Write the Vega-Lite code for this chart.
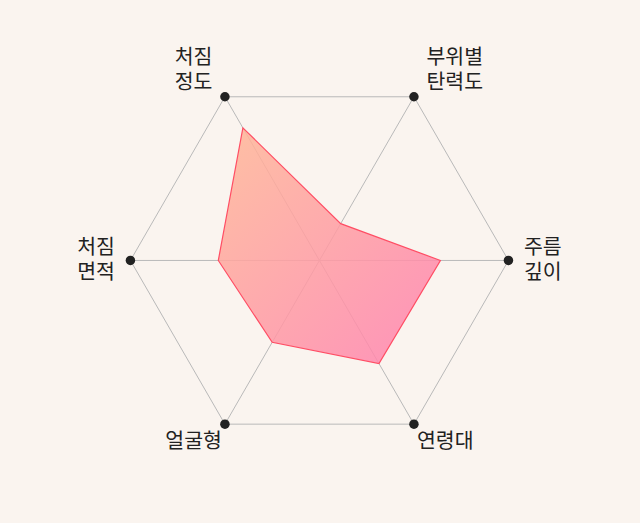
{
  "$schema": "https://vega.github.io/schema/vega-lite/v6.json",
  "width": 640,
  "height": 523,
  "autosize": {"type": "fit", "contains": "padding"},
  "padding": 0,
  "background": "#faf4ef",
  "config": {"view": {"stroke": null}},
  "data": {
    "values": [
      {"axis": "처짐 정도", "idx": 0, "value": 0.81},
      {"axis": "부위별 탄력도", "idx": 1, "value": 0.225},
      {"axis": "주름 깊이", "idx": 2, "value": 0.64},
      {"axis": "연령대", "idx": 3, "value": 0.63},
      {"axis": "얼굴형", "idx": 4, "value": 0.5},
      {"axis": "처짐 면적", "idx": 5, "value": 0.535}
    ]
  },
  "transform": [
    {"calculate": "(120 - 60 * datum.idx) * PI / 180", "as": "a"},
    {"calculate": "cos(datum.a)", "as": "hx"},
    {"calculate": "sin(datum.a)", "as": "hy"},
    {"calculate": "0", "as": "c0"},
    {"calculate": "datum.value * datum.hx", "as": "px"},
    {"calculate": "datum.value * datum.hy", "as": "py"},
    {"calculate": "datum.hx + (datum.hx > 0 ? 1 : -1) * (datum.hy > 0.1 ? 0.066 : datum.hy < -0.1 ? 0.016 : 0.082)", "as": "lx"},
    {"calculate": "datum.hy + (datum.hy > 0.1 ? 0.2037 : datum.hy < -0.1 ? -0.0926 : 0.066)", "as": "ly"}
  ],
  "layer": [
    {
      "mark": {"type": "rule", "color": "#b9b9b9", "strokeWidth": 1},
      "encoding": {
        "x": {"field": "c0", "type": "quantitative", "scale": {"domain": [-1.69, 1.696], "nice": false, "zero": false, "padding": 0}, "axis": null},
        "y": {"field": "c0", "type": "quantitative", "scale": {"domain": [-1.389, 1.378], "nice": false, "zero": false, "padding": 0}, "axis": null},
        "x2": {"field": "hx"},
        "y2": {"field": "hy"}
      }
    },
    {
      "mark": {"type": "line", "interpolate": "linear-closed", "color": "#b9b9b9", "strokeWidth": 1},
      "encoding": {
        "x": {"field": "hx", "type": "quantitative", "scale": {"domain": [-1.69, 1.696], "nice": false, "zero": false, "padding": 0}, "axis": null},
        "y": {"field": "hy", "type": "quantitative", "scale": {"domain": [-1.389, 1.378], "nice": false, "zero": false, "padding": 0}, "axis": null},
        "order": {"field": "idx", "type": "quantitative"}
      }
    },
    {
      "mark": {
        "type": "line",
        "interpolate": "linear-closed",
        "fill": {
          "gradient": "linear",
          "x1": 0, "y1": 0, "x2": 1, "y2": 1,
          "stops": [
            {"offset": 0, "color": "#ffb796"},
            {"offset": 1, "color": "#ff80b0"}
          ]
        },
        "fillOpacity": 0.85,
        "stroke": "#ff4d64",
        "strokeWidth": 1.2
      },
      "encoding": {
        "x": {"field": "px", "type": "quantitative", "scale": {"domain": [-1.69, 1.696], "nice": false, "zero": false, "padding": 0}, "axis": null},
        "y": {"field": "py", "type": "quantitative", "scale": {"domain": [-1.389, 1.378], "nice": false, "zero": false, "padding": 0}, "axis": null},
        "order": {"field": "idx", "type": "quantitative"}
      }
    },
    {
      "mark": {"type": "circle", "size": 90, "color": "#222222", "opacity": 1},
      "encoding": {
        "x": {"field": "hx", "type": "quantitative", "scale": {"domain": [-1.69, 1.696], "nice": false, "zero": false, "padding": 0}, "axis": null},
        "y": {"field": "hy", "type": "quantitative", "scale": {"domain": [-1.389, 1.378], "nice": false, "zero": false, "padding": 0}, "axis": null}
      }
    },
    {
      "transform": [{"filter": "datum.hx < 0"}],
      "mark": {"type": "text", "align": "right", "baseline": "middle", "font": "Noto Sans CJK KR", "fontSize": 20.5, "lineHeight": 25, "lineBreak": " ", "color": "#222222"},
      "encoding": {
        "x": {"field": "lx", "type": "quantitative", "scale": {"domain": [-1.69, 1.696], "nice": false, "zero": false, "padding": 0}, "axis": null},
        "y": {"field": "ly", "type": "quantitative", "scale": {"domain": [-1.389, 1.378], "nice": false, "zero": false, "padding": 0}, "axis": null},
        "text": {"field": "axis", "type": "nominal"}
      }
    },
    {
      "transform": [{"filter": "datum.hx > 0"}],
      "mark": {"type": "text", "align": "left", "baseline": "middle", "font": "Noto Sans CJK KR", "fontSize": 20.5, "lineHeight": 25, "lineBreak": " ", "color": "#222222"},
      "encoding": {
        "x": {"field": "lx", "type": "quantitative", "scale": {"domain": [-1.69, 1.696], "nice": false, "zero": false, "padding": 0}, "axis": null},
        "y": {"field": "ly", "type": "quantitative", "scale": {"domain": [-1.389, 1.378], "nice": false, "zero": false, "padding": 0}, "axis": null},
        "text": {"field": "axis", "type": "nominal"}
      }
    }
  ]
}
